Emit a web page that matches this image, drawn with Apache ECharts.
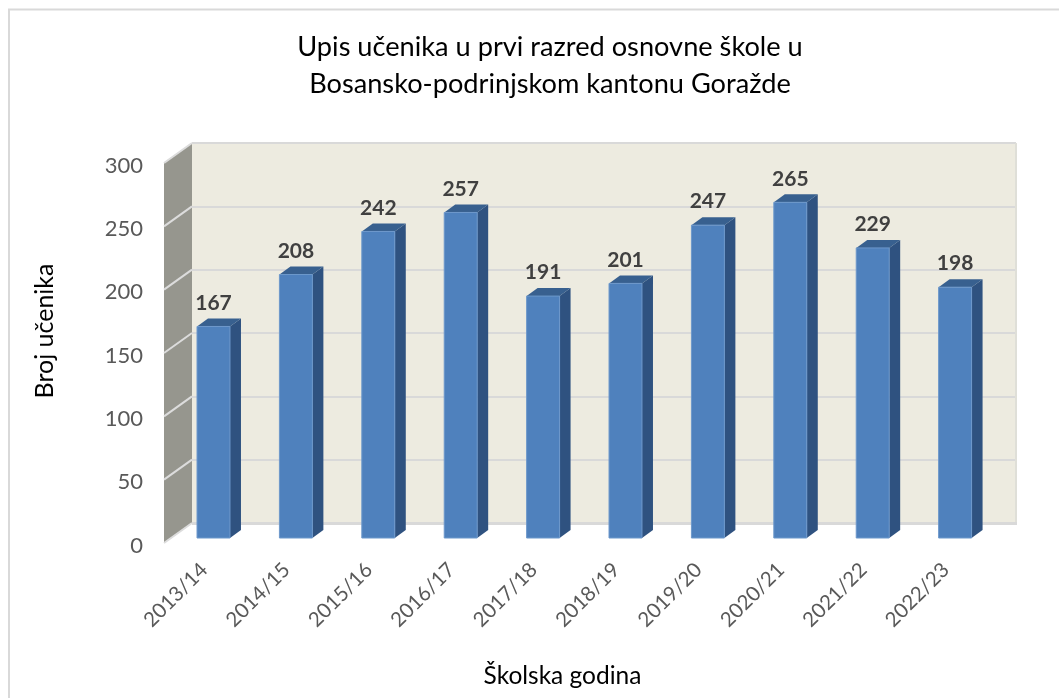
<!DOCTYPE html>
<html>
<head>
<meta charset="utf-8">
<title>Upis učenika</title>
<script src="https://cdn.jsdelivr.net/npm/echarts@6/dist/echarts.min.js"></script>
<style>
html,body{margin:0;padding:0;background:#fff;}
#chart{width:1059px;height:698px;}
</style>
</head>
<body>
<div id="chart"></div>
<script>
var years = ['2013/14','2014/15','2015/16','2016/17','2017/18','2018/19','2019/20','2020/21','2021/22','2022/23'];
var pupils = [167,208,242,257,191,201,247,265,229,198];
var yTicks = [0,50,100,150,200,250,300];

var fontName = 'Lato';
var myChart = echarts.init(document.getElementById('chart'));

// pseudo 3d: the grid is the back wall, everything else is shifted off it
var wallDx = -28, wallDy = 20;
var barFrontDx = -19.7, barFrontDy = 15;
var barBackDx = -8.7, barBackDy = 7;

var renderWall = function(params, api){
	var v = api.value(0);
	var p = api.coord([years[0], v]);
	var x0 = api.coord([years[0], 0])[0] - api.size([1, 0])[0] / 2;
	var y = p[1];
	var children = [];
	if(v < 300){
		var yNext = api.coord([years[0], v + 50])[1];
		children.push({
			type: 'polygon',
			shape: {points: [[x0, y], [x0, yNext], [x0 + wallDx, yNext + wallDy], [x0 + wallDx, y + wallDy]]},
			style: {fill: '#96968e'}
		});
	}
	children.push({
		type: 'line',
		z2: 5,
		shape: {x1: x0, y1: y, x2: x0 + wallDx, y2: y + wallDy},
		style: {stroke: '#dcdcdc', lineWidth: 2}
	});
	return {type: 'group', children: children};
};

var renderBar = function(params, api){
	var p0 = api.coord([api.value(0), 0]);
	var p1 = api.coord([api.value(0), api.value(1)]);
	var w = api.size([1, 0])[0] * 0.4;
	var xl = p0[0] + barFrontDx - w / 2, xr = xl + w;
	var yb = p0[1] + barFrontDy, yt = p1[1] + barFrontDy;
	var dx = barBackDx - barFrontDx, dy = barBackDy - barFrontDy;
	return {
		type: 'group',
		children: [
			{type: 'polygon', shape: {points: [[xr, yb], [xr, yt], [xr + dx, yt + dy], [xr + dx, yb + dy]]}, style: {fill: '#2f5280'}},
			{type: 'polygon', shape: {points: [[xl, yt], [xr, yt], [xr + dx, yt + dy], [xl + dx, yt + dy]]}, style: {fill: '#38608f'}},
			{type: 'rect', shape: {x: xl, y: yt, width: w, height: yb - yt}, style: {fill: '#4f81bd', stroke: '#6d98cb', lineWidth: 1}},
			{type: 'text', z2: 10, x: (xl + xr) / 2, y: yt - 13, style: {
				text: String(api.value(1)), font: 'bold 21px ' + fontName, fill: '#404040',
				align: 'center', verticalAlign: 'bottom'
			}}
		]
	};
};

var renderEdge = function(params, api){
	var top = api.coord([years[years.length - 1], 300]);
	var bottom = api.coord([years[years.length - 1], 0]);
	var x = top[0] + api.size([1, 0])[0] / 2;
	var left = api.coord([years[0], 0])[0] - api.size([1, 0])[0] / 2;
	return {type: 'group', children: [
		{type: 'line', shape: {x1: x, y1: top[1], x2: x, y2: bottom[1]}, style: {stroke: '#dfdfd8', lineWidth: 2}},
		{type: 'line', shape: {x1: left, y1: bottom[1] + 0.5, x2: x + 1, y2: bottom[1] + 0.5}, style: {stroke: '#d9d9d9', lineWidth: 3}}
	]};
};

myChart.setOption({
	animation: false,
	backgroundColor: '#fff',
	title: {
		text: 'Upis učenika u prvi razred osnovne škole u\nBosansko-podrinjskom kantonu Goražde',
		left: 545,
		top: 24,
		textAlign: 'center',
		textStyle: {fontFamily: fontName, fontSize: 27.2, fontWeight: 'normal', color: '#000', lineHeight: 37}
	},
	graphic: [{
		type: 'polyline',
		shape: {points: [[9, 698], [9, 9.5], [1059, 9.5]]},
		style: {fill: 'none', stroke: '#d9d9d9', lineWidth: 2}
	}, {
		type: 'text', x: 45, y: 331, rotation: Math.PI / 2,
		style: {text: 'Broj učenika', font: '25px ' + fontName, fill: '#000', align: 'center', verticalAlign: 'middle'}
	}, {
		type: 'text', x: 562.5, y: 676,
		style: {text: 'Školska godina', font: '24.5px ' + fontName, fill: '#000', align: 'center', verticalAlign: 'middle'}
	}],
	grid: [
		{left: 192, top: 143, width: 824, height: 380, show: true, backgroundColor: '#edebe0', borderWidth: 0},
		{left: 163, top: 165.5, width: 824, height: 380}
	],
	xAxis: [
		{type: 'category', gridIndex: 0, data: years, axisLine: {show: false}, axisTick: {show: false}, axisLabel: {show: false}},
		{
			type: 'category', gridIndex: 1, data: years,
			axisLine: {show: false}, axisTick: {show: false},
			axisLabel: {rotate: 45, fontFamily: fontName, fontSize: 20.5, color: '#595959', margin: 21, interval: 0}
		}
	],
	yAxis: [
		{
			type: 'value', gridIndex: 0, min: 0, max: 300, interval: 50,
			axisLine: {show: false}, axisTick: {show: false}, axisLabel: {show: false},
			splitLine: {show: true, lineStyle: {color: '#d9d9d9', width: 2}}
		},
		{
			type: 'value', gridIndex: 1, min: 0, max: 300, interval: 50,
			axisLine: {show: false}, axisTick: {show: false}, splitLine: {show: false},
			axisLabel: {fontFamily: fontName, fontSize: 22, color: '#595959', margin: 20}
		}
	],
	series: [
		{type: 'custom', xAxisIndex: 0, yAxisIndex: 0, data: yTicks.map(function(t){ return [t]; }), renderItem: renderWall, encode: {y: 0}, silent: true},
		{type: 'custom', xAxisIndex: 0, yAxisIndex: 0, data: [[0]], renderItem: renderEdge, silent: true},
		{type: 'custom', xAxisIndex: 0, yAxisIndex: 0, data: years.map(function(y, i){ return [i, pupils[i]]; }), renderItem: renderBar, encode: {x: 0, y: 1}, z: 3}
	]
});
</script>
</body>
</html>
